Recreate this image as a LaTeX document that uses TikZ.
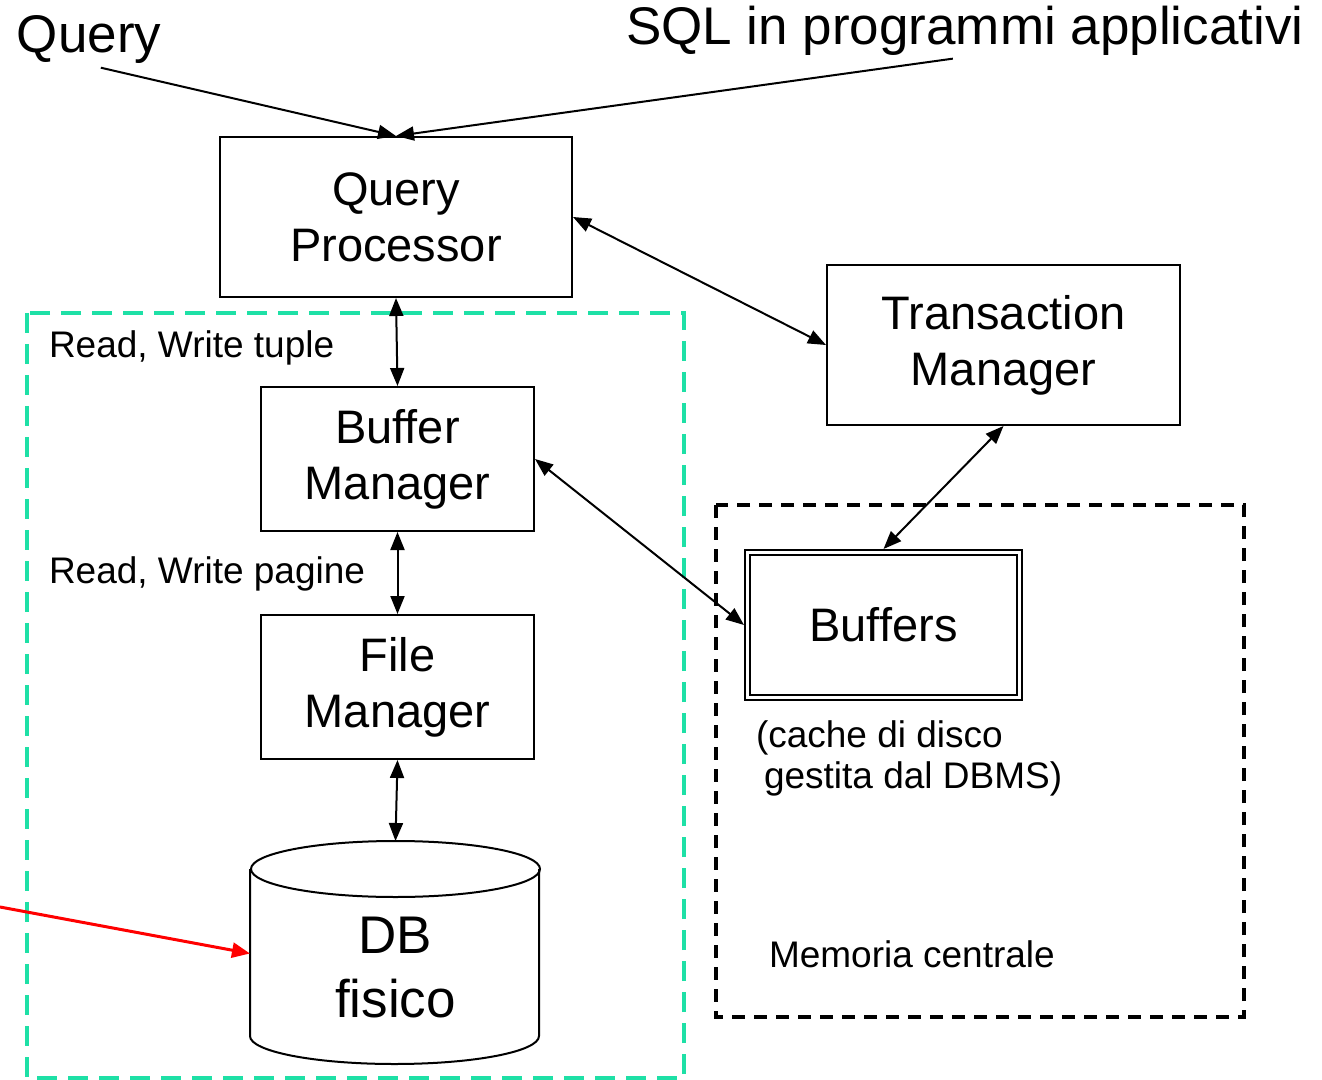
\documentclass[tikz,border=0pt]{standalone}
\usepackage{fontspec}
\setmainfont{Liberation Sans}
\usetikzlibrary{arrows.meta, positioning}
\definecolor{cmint}{HTML}{1EE0A6}
\definecolor{cred}{HTML}{FF0000}
\tikzset{
  every picture/.style={line width=1pt},
  box/.style={draw, align=center, inner sep=0pt, font=\fontsize{23.5}{28}\selectfont},
  arrow/.style={{Triangle[length=9pt, width=7pt]}-{Triangle[length=9pt, width=7pt]}, line width=1pt},
  feed/.style={-{Triangle[length=9pt, width=7pt]}, line width=1pt},
  title/.style={font=\fontsize{26.5}{30}\selectfont, inner sep=0pt},
  note/.style={font=\fontsize{18.5}{20.5}\selectfont, inner sep=0pt, align=left},
  mintzone/.style={draw=cmint, line width=1.7pt, dash pattern=on 10pt off 5.5pt},
  memzone/.style={draw=black, line width=1.6pt, dash pattern=on 6.5pt off 4.5pt},
}

\begin{document}
\begin{tikzpicture}[x=0.5pt, y=-0.5pt]
  \useasboundingbox (0,0) rectangle (1322,1080);
  % zones
  \draw[mintzone] (27,313) rectangle (684,1078);
  \draw[memzone] (716,505) rectangle (1244,1017);
  % components
  \node[box, minimum width=176pt, minimum height=80pt] (qp) at (396,217) {Query\\Processor};
  \node[box, minimum width=176.5pt, minimum height=80pt] (tm) at (1003.5,345) {Transaction\\Manager};
  \node[box, minimum width=136.5pt, minimum height=72pt] (bm) at (397.5,459) {Buffer\\Manager};
  \node[box, minimum width=136.5pt, minimum height=72pt] (fm) at (397.5,687) {File\\Manager};
  \node[box, double, double distance=1.5pt, outer sep=1.75pt, minimum width=136pt, minimum height=72.5pt] (buf) at (883.5,625) {Buffers};
  % physical db, cylinder
  \node[minimum width=144.5pt, minimum height=111.5pt, inner sep=0pt] (db) at (395.5,953.5) {};
  \draw (db.north west) ++(0,28) -- ++(0,167) arc[start angle=180, end angle=360, x radius=72.25pt, y radius=14pt] -- ++(0,-167);
  \draw (db.north) ++(0,28) ellipse[x radius=72.25pt, y radius=14pt];
  \node[box, draw=none, font=\fontsize{26.5}{32}\selectfont, anchor=base] (dbtext) at (395.5,1017) {DB\\fisico};
  % labels
  \node[title, anchor=base west] (ql) at (16,53) {Query};
  \node[title, anchor=base west] (sql) at (625,45) {SQL in programmi applicativi};
  \node[note, anchor=base west] (rwt) at (48,358) {Read, Write tuple};
  \node[note, anchor=base west] (rwp) at (48,583) {Read, Write pagine};
  \node[note, anchor=base west] (cache) at (755,788) {(cache di disco\\\hspace*{4pt}gestita dal DBMS)};
  \node[note, anchor=base west] (mem) at (768,967) {Memoria centrale};
  % connectors
  \draw[feed, shorten <=6pt] (ql.south) -- (qp.north);
  \draw[feed, shorten <=6pt] (sql.south) -- (qp.north);
  \draw[arrow] (qp.south) -- (bm.north);
  \draw[arrow] (bm.south) -- (fm.north);
  \draw[arrow] (fm.south) -- (db.north);
  \draw[arrow] (qp.east) -- (tm.west);
  \draw[arrow] (tm.south) -- (buf.north);
  \draw[arrow] (bm.east) -- (buf.west);
  \coordinate (redtail) at (0,907);
  \draw[-{Triangle[length=9pt, width=7.5pt]}, draw=cred, line width=1.5pt] (redtail) -- (db.west);
\end{tikzpicture}
\end{document}
